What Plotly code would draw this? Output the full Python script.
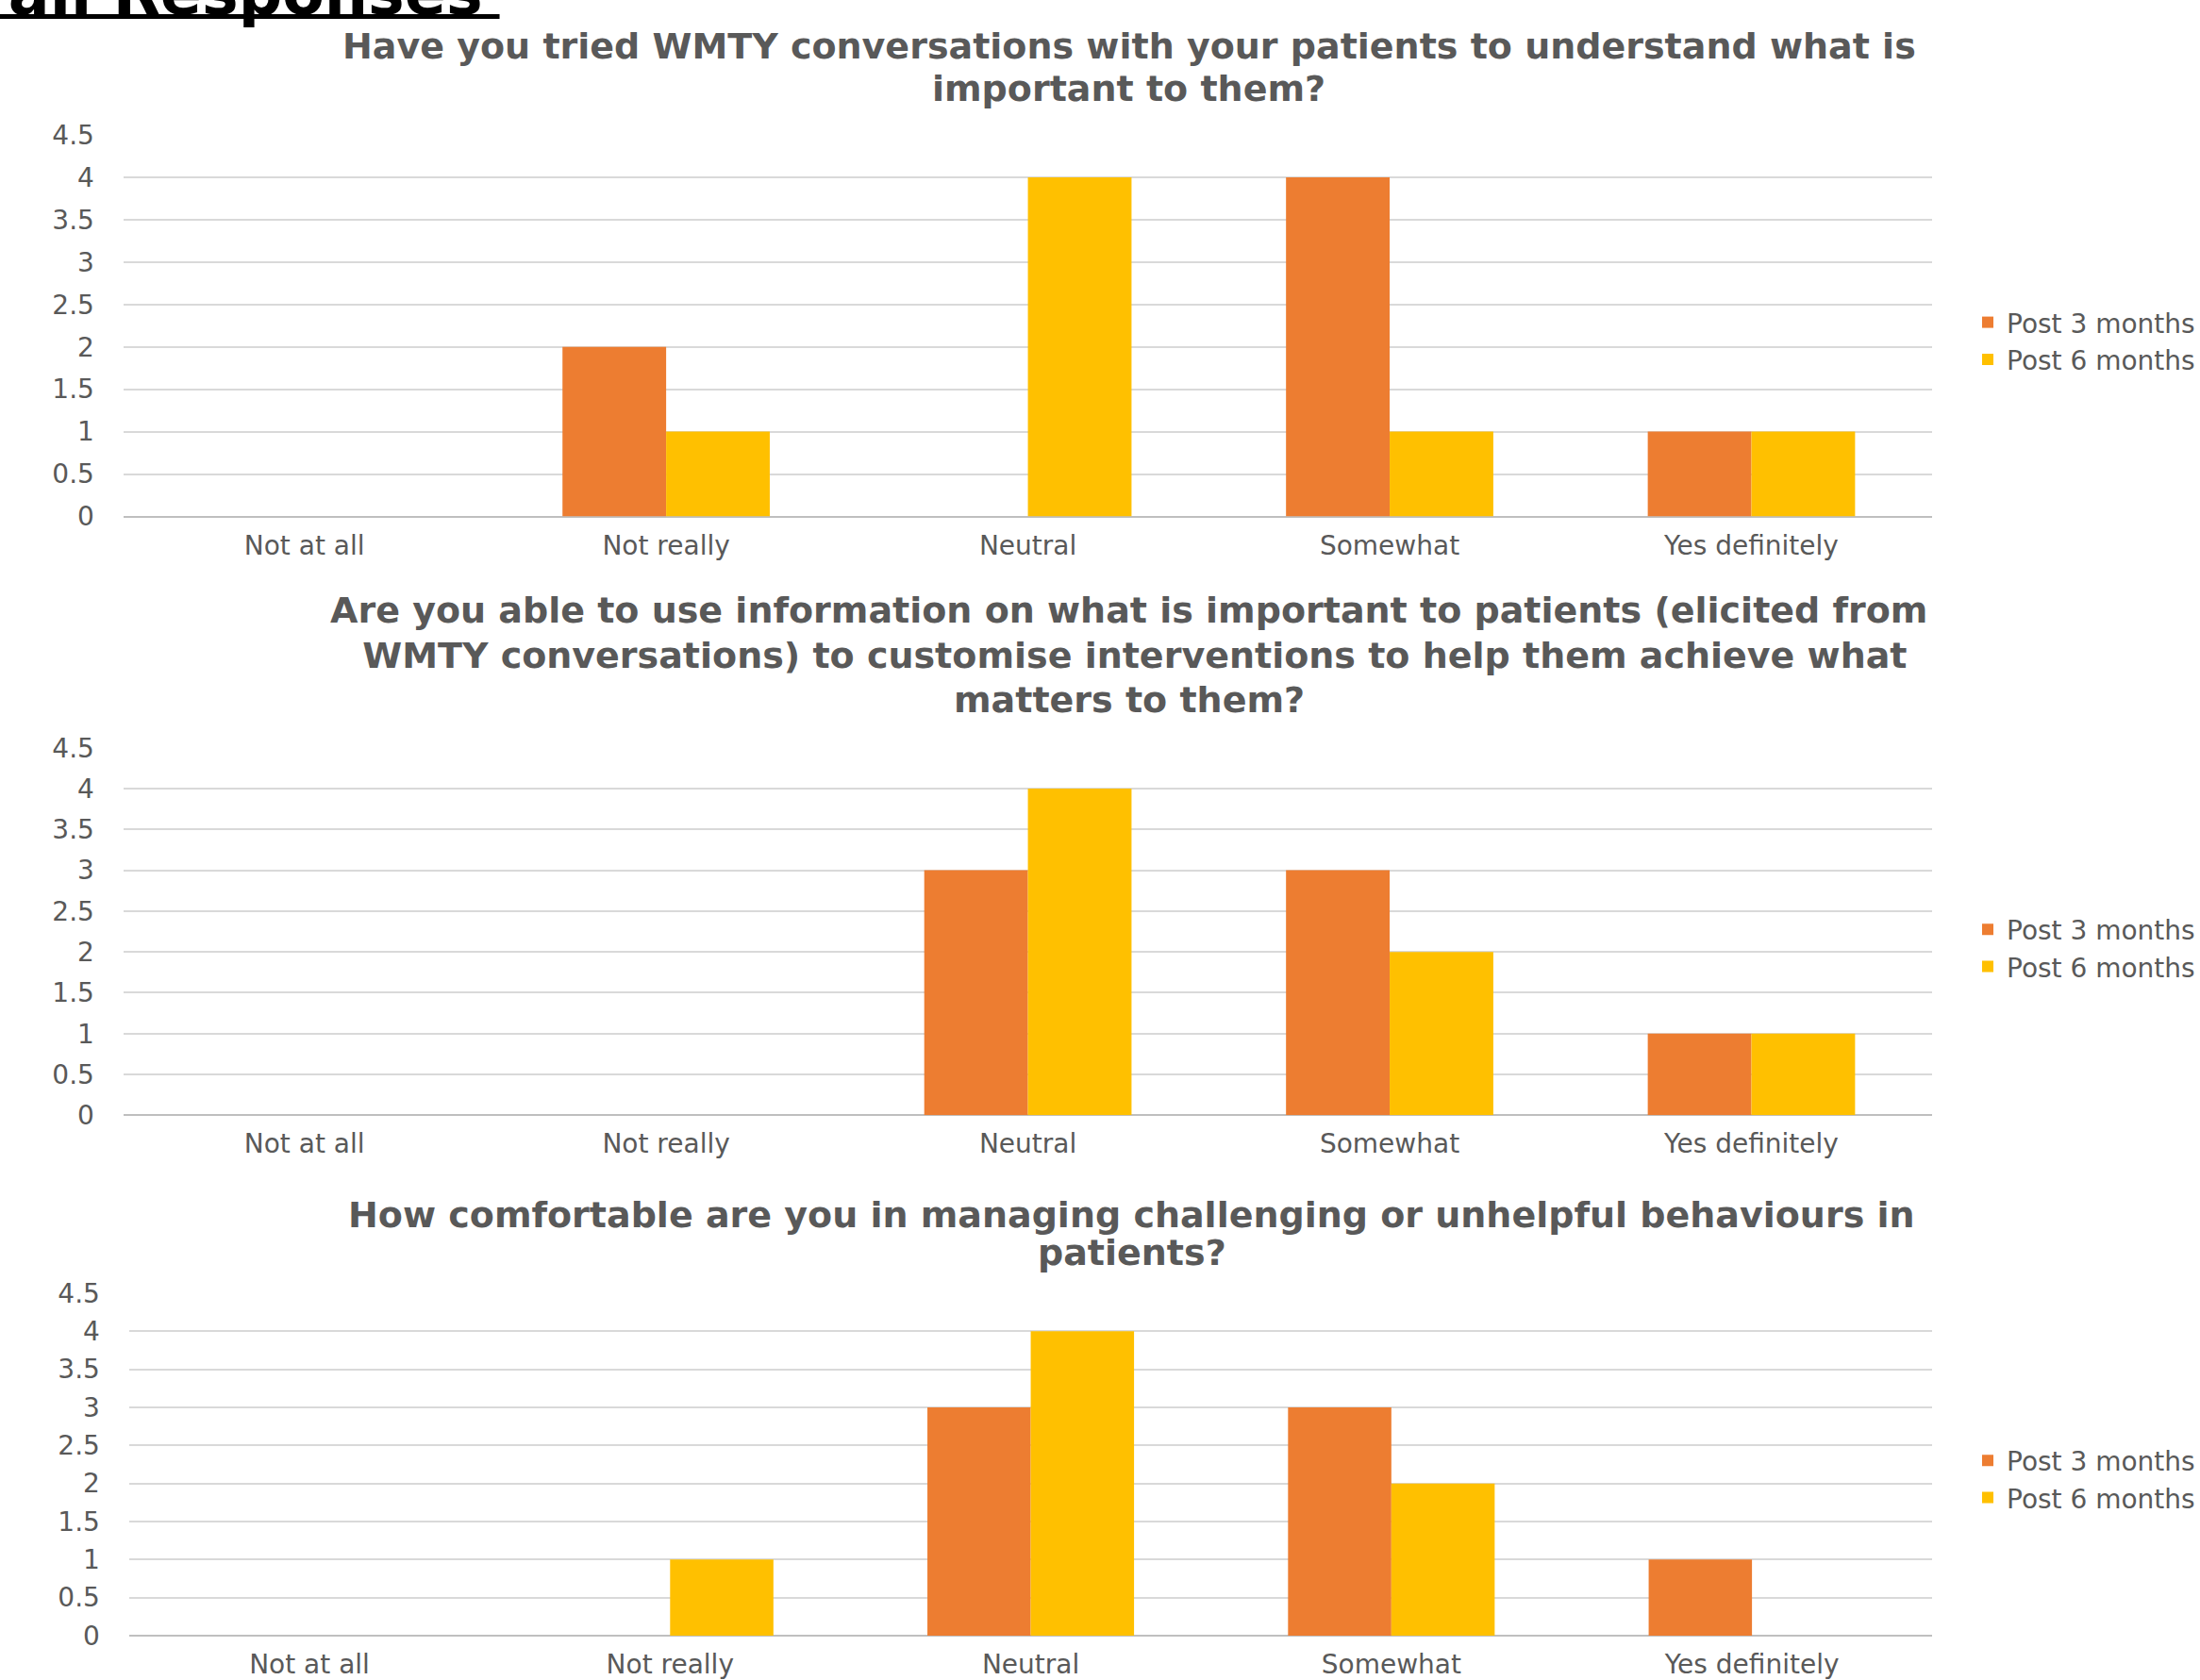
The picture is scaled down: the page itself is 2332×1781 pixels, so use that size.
import plotly.graph_objects as go

W, H = 2332, 1781

categories = ["Not at all", "Not really", "Neutral", "Somewhat", "Yes definitely"]
series_names = ["Post 3 months", "Post 6 months"]
series_colors = ["#ED7D31", "#FFC000"]

q1_post3 = [0, 2, 0, 4, 1]
q1_post6 = [0, 1, 4, 1, 1]
q2_post3 = [0, 0, 3, 3, 1]
q2_post6 = [0, 0, 4, 2, 1]
q3_post3 = [0, 0, 3, 3, 1]
q3_post6 = [0, 1, 4, 2, 0]

q1_title = ["Have you tried WMTY conversations with your patients to understand what is",
            "important to them?"]
q2_title = ["Are you able to use information on what is important to patients (elicited from",
            " WMTY conversations) to customise interventions to help them achieve what",
            "matters to them?"]
q3_title = ["How comfortable are you in managing challenging or unhelpful behaviours in",
            "patients?"]
page_title = "Overall Responses"

TXT = "#595959"
FONT = "DejaVu Sans"

panels = [
    dict(vals=(q1_post3, q1_post6), xpx=(131, 2050), ypx=(547.5, 143),
         title=q1_title, title_y=[49, 93.7], title_x=1198, title_size=38, legend_y=361.4),
    dict(vals=(q2_post3, q2_post6), xpx=(131, 2050), ypx=(1182.3, 792.7),
         title=q2_title, title_y=[647, 694.5, 742], title_x=1198, title_size=38, legend_y=1005),
    dict(vals=(q3_post3, q3_post6), xpx=(137, 2050), ypx=(1734, 1371),
         title=q3_title, title_y=[1288, 1328], title_x=1201, title_size=38, legend_y=1568),
]

fig = go.Figure()
annotations = []
layout = {}

for i, p in enumerate(panels):
    n = i + 1
    xa = "x" if n == 1 else f"x{n}"
    ya = "y" if n == 1 else f"y{n}"
    leg = "legend" if n == 1 else f"legend{n}"
    for name, color, vals in zip(series_names, series_colors, p["vals"]):
        fig.add_trace(go.Bar(x=categories, y=vals, name=name,
                             marker=dict(color=color, line=dict(width=0)),
                             xaxis=xa, yaxis=ya, legend=leg, hoverinfo="skip"))
    xkey = "xaxis" if n == 1 else f"xaxis{n}"
    ykey = "yaxis" if n == 1 else f"yaxis{n}"
    layout[xkey] = dict(domain=[p["xpx"][0] / W, p["xpx"][1] / W], anchor=ya,
                        type="category", categoryorder="array", categoryarray=categories,
                        showgrid=False, showline=False, ticks="", zeroline=False,
                        tickfont=dict(family=FONT, size=28, color=TXT),
                        ticklabelstandoff=11, automargin=False, fixedrange=True)
    layout[ykey] = dict(domain=[1 - p["ypx"][0] / H, 1 - p["ypx"][1] / H], anchor=xa,
                        range=[0, 4.5], tick0=0, dtick=0.5,
                        showgrid=True, gridcolor="#D9D9D9", gridwidth=2,
                        zeroline=True, zerolinecolor="#BFBFBF", zerolinewidth=2,
                        showline=False, ticks="",
                        tickfont=dict(family=FONT, size=28, color=TXT),
                        ticklabelstandoff=30, automargin=False, fixedrange=True)
    layout[leg] = dict(x=2089 / W, xanchor="left", y=1 - p["legend_y"] / H, yanchor="middle",
                       bgcolor="rgba(0,0,0,0)", borderwidth=0,
                       font=dict(family=FONT, size=28, color=TXT), traceorder="normal")
    for line, ly in zip(p["title"], p["title_y"]):
        annotations.append(dict(text="<b>" + line + "</b>", xref="paper", yref="paper",
                                x=p["title_x"] / W, y=1 - ly / H, xanchor="center", yanchor="middle",
                                showarrow=False,
                                font=dict(family=FONT, size=p["title_size"], color=TXT)))

annotations.append(dict(text="<b>" + page_title + "</b>", xref="paper", yref="paper",
                        x=514 / W, y=1 + 7 / H, xanchor="right", yanchor="middle",
                        showarrow=False, font=dict(family=FONT, size=65, color="#000000")))

fig.update_layout(
    width=W, height=H,
    margin=dict(l=0, r=0, t=0, b=0),
    paper_bgcolor="white", plot_bgcolor="white",
    barmode="group", bargap=0.427, bargroupgap=0,
    showlegend=True,
    annotations=annotations,
    shapes=[dict(type="rect", xref="paper", yref="paper",
                 x0=-20 / W, x1=530 / W, y0=1 - 20 / H, y1=1 - 15 / H,
                 fillcolor="#000000", line=dict(width=0))],
    **layout,
)

fig.write_html("out.html", config={"displayModeBar": False})
